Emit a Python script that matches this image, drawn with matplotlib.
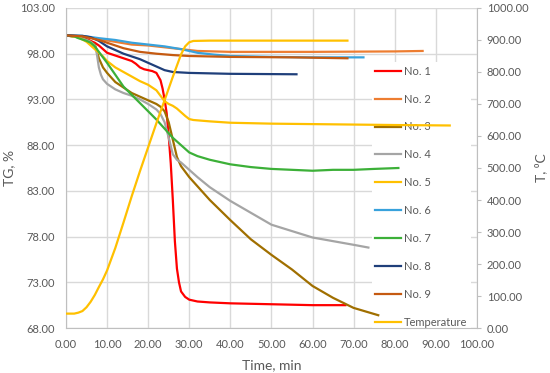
import matplotlib
matplotlib.use('Agg')
from matplotlib import pyplot as plt

plt.rcParams['font.family'] = ['Lato', 'DejaVu Sans']

# TG curves (time in min, TG in %)
t1 = [0, 3, 5, 7, 8, 9, 10, 12, 14, 16, 17, 18, 19, 20, 21, 22, 23, 23.5, 24, 24.5, 25, 25.5,
      26, 26.5, 27, 27.5, 28, 29, 30, 32, 35, 40, 50, 60, 68]
tg1 = [100, 99.9, 99.6, 99.2, 98.9, 98.5, 98.1, 97.8, 97.5, 97.2, 96.9, 96.5, 96.3, 96.2, 96.1,
       95.9, 95.1, 94.2, 93.0, 91.5, 89.0, 86.0, 82.0, 77.5, 74.5, 73.0, 72.0, 71.4, 71.1, 70.9,
       70.8, 70.7, 70.6, 70.5, 70.5]

t2 = [0, 4, 8, 12, 16, 20, 24, 28, 32, 40, 60, 80, 86.8]
tg2 = [100, 99.9, 99.6, 99.3, 99.0, 98.9, 98.7, 98.5, 98.3, 98.2, 98.2, 98.25, 98.3]

t3 = [0, 3, 5, 6, 7, 7.5, 8, 9, 10, 12, 14, 16, 18, 20, 22, 23, 24, 25, 26, 27, 28, 30, 32,
      35, 40, 45, 50, 55, 60, 65, 70, 73, 76]
tg3 = [100, 99.8, 99.5, 99.3, 99.0, 98.4, 97.5, 96.5, 95.9, 94.9, 94.3, 93.7, 93.3, 92.9, 92.5,
       92.2, 91.7, 90.5, 88.6, 86.7, 85.7, 84.5, 83.5, 82.0, 79.8, 77.7, 76.0, 74.4, 72.6, 71.3,
       70.2, 69.8, 69.4]

t4 = [0, 3, 5, 6, 7, 7.5, 8, 8.5, 9, 10, 12, 14, 16, 18, 20, 22, 23, 24, 25, 26, 27, 28, 30,
      32, 35, 40, 45, 50, 55, 60, 65, 70, 73.6]
tg4 = [100, 99.8, 99.5, 99.3, 98.9, 98.0, 96.5, 95.7, 95.2, 94.7, 94.1, 93.7, 93.4, 93.0, 92.5,
       91.9, 91.4, 90.5, 88.8, 87.0, 86.4, 86.1, 85.3, 84.5, 83.4, 81.9, 80.6, 79.3, 78.6, 77.9,
       77.5, 77.1, 76.8]

t5 = [0, 3, 5, 6, 7, 8, 9, 10, 12, 14, 16, 18, 20, 22, 23, 24, 25, 26, 27, 28, 29, 30, 31, 35,
      40, 50, 60, 70, 80, 93.4]
tg5 = [100, 99.8, 99.3, 98.9, 98.5, 98.1, 97.7, 97.2, 96.5, 96.0, 95.5, 95.0, 94.6, 94.0, 93.4,
       92.8, 92.5, 92.3, 92.0, 91.6, 91.2, 90.85, 90.75, 90.6, 90.45, 90.35, 90.3, 90.25, 90.2,
       90.15]

t6 = [0, 4, 8, 12, 16, 20, 24, 28, 32, 36, 40, 50, 60, 72.4]
tg6 = [100, 99.95, 99.7, 99.5, 99.2, 99.0, 98.8, 98.5, 98.1, 97.9, 97.75, 97.65, 97.6, 97.6]

t7 = [0, 2, 3, 5, 6, 7, 8, 9, 10, 12, 14, 16, 18, 20, 22, 24, 26, 28, 30, 32, 35, 40, 45, 50,
      55, 60, 65, 70, 75, 80.9]
tg7 = [100, 99.9, 99.7, 99.4, 99.2, 98.8, 98.2, 97.6, 97.0, 95.7, 94.4, 93.5, 92.6, 91.7, 90.8,
       89.8, 88.8, 88.0, 87.2, 86.8, 86.4, 85.9, 85.6, 85.4, 85.3, 85.2, 85.3, 85.3, 85.4, 85.5]

t8 = [0, 4, 6, 8, 10, 12, 14, 16, 18, 20, 22, 24, 26, 30, 40, 56.1]
tg8 = [100, 99.95, 99.8, 99.4, 98.8, 98.4, 98.0, 97.7, 97.4, 97.0, 96.6, 96.2, 96.0, 95.9, 95.8,
       95.75]

t9 = [0, 4, 6, 8, 10, 12, 14, 16, 18, 22, 26, 30, 40, 55, 68.5]
tg9 = [100, 99.9, 99.7, 99.5, 99.2, 98.9, 98.6, 98.4, 98.2, 98.0, 97.85, 97.75, 97.65, 97.6, 97.5]

# furnace temperature (right axis)
t_temp = [0, 2, 3, 4, 5, 6, 7, 8, 9, 10, 12, 14, 16, 18, 20, 22, 24, 26, 28, 29, 30, 31, 35,
          50, 68.5]
temp = [45, 45, 48, 53, 65, 82, 103, 128, 152, 180, 250, 330, 412, 490, 565, 640, 712, 785,
        855, 880, 893, 897, 898, 898, 898]

labels = ['No. 1', 'No. 2', 'No. 3', 'No. 4', 'No. 5', 'No. 6', 'No. 7', 'No. 8', 'No. 9']
colors = ['#FF0000', '#ED7D31', '#A06F00', '#A5A5A5', '#FFC000', '#38A2DC', '#3CB038',
          '#1F3F7A', '#C55A11']
times = [t1, t2, t3, t4, t5, t6, t7, t8, t9]
tgs = [tg1, tg2, tg3, tg4, tg5, tg6, tg7, tg8, tg9]

grey = '#595959'
fig = plt.figure(figsize=(5.5, 3.73), dpi=100)
ax = fig.add_axes([0.12, 0.1206, 0.747, 0.858])
ax2 = ax.twinx()

handles = []
for t, v, c, lab in zip(times, tgs, colors, labels):
    h, = ax.plot(t, v, color=c, lw=1.6, label=lab, zorder=2)
    handles.append(h)
h, = ax2.plot(t_temp, temp, color='#FFC000', lw=1.6, label='Temperature')
handles.append(h)

ax.set_xlim(0, 100)
ax.set_ylim(68, 103)
ax.set_xticks(range(0, 101, 10))
ax.set_yticks(range(68, 104, 5))
ax.set_xticklabels(['%.2f' % x for x in range(0, 101, 10)])
ax.set_yticklabels(['%.2f' % y for y in range(68, 104, 5)])
ax2.set_ylim(0, 1000)
ax2.set_yticks(range(0, 1001, 100))
ax2.set_yticklabels(['%.2f' % y for y in range(0, 1001, 100)])

ax.set_axisbelow(True)
ax.grid(True, color='#D9D9D9', lw=1)
for a in (ax, ax2):
    for s in a.spines.values():
        s.set_color('#BFBFBF')
    a.spines['top'].set_visible(False)
ax.spines['right'].set_visible(False)
ax2.spines['left'].set_visible(False)
ax2.spines['bottom'].set_visible(False)

ax.tick_params(axis='both', length=0, labelsize=8, labelcolor=grey, pad=8)
ax2.tick_params(axis='y', length=3, color='#BFBFBF', labelsize=8, labelcolor=grey, pad=4)

ax.set_xlabel('Time, min', fontsize=10, color=grey)
ax.set_ylabel('TG, %', fontsize=10, color=grey)
ax2.set_ylabel('T, \u2070C', fontsize=10, color=grey, rotation=90)
ax.xaxis.set_label_coords(0.5, -0.098)
ax.yaxis.set_label_coords(-0.124, 0.5)
ax2.yaxis.set_label_coords(1.14, 0.5)

leg = ax.legend(handles=handles, loc='upper left', bbox_to_anchor=(0.745, 0.83),
                frameon=True, facecolor='white', edgecolor='none', framealpha=1,
                fontsize=8, labelcolor=grey, handlelength=2.3, handletextpad=0.3,
                labelspacing=1.52, borderaxespad=0, borderpad=0.3)
leg.set_zorder(1.5)

fig.savefig('out.png', dpi=100)
